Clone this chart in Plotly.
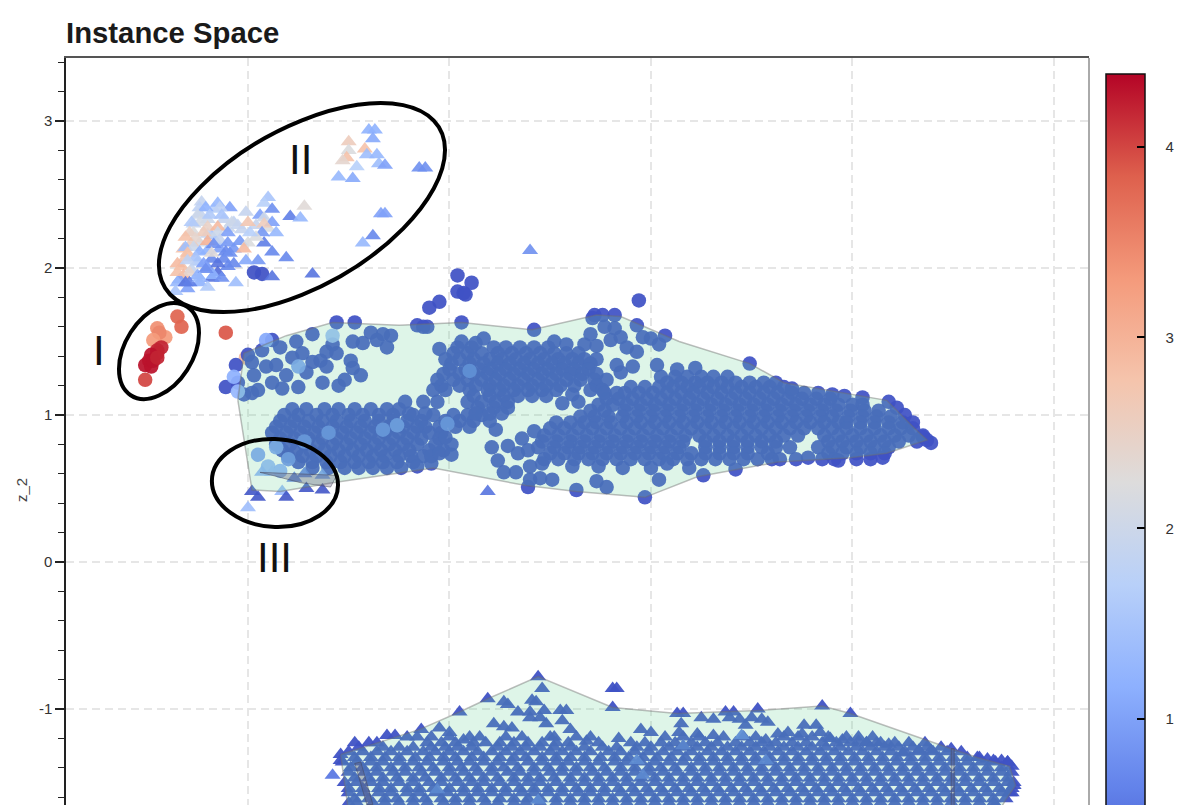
import plotly.graph_objects as go

# ---------- (z_1, z_2, colour value) ----------
COOLWARM = [[0, "#3b4cc0"], [.125, "#6282ea"], [.25, "#8db0fe"], [.375, "#b8d0f9"], [.5, "#dddcdc"],
            [.625, "#f5c4ac"], [.75, "#f49a7b"], [.875, "#de604d"], [1, "#b40426"]]

hull_upper_x = [-2.05,-1.98,-1.84,-1.58,-1.08,-0.62,-0.37,-0.03,0.23,0.63,0.99,1.17,1.37,1.30,1.17,0.66,0.49,0.14,-0.15,-0.27,-0.59,-0.94,-1.25,-1.58,-1.81,-2.02,-2.05]
hull_upper_y = [1.10,0.49,0.48,0.54,0.64,0.52,0.48,0.44,0.58,0.68,0.71,0.74,0.83,0.92,1.10,1.22,1.35,1.50,1.67,1.68,1.58,1.63,1.61,1.63,1.54,1.42,1.10]
hull_lower_x = [-1.54,-1.15,-0.95,-0.81,-0.56,-0.19,0.13,0.53,0.85,0.99,1.49,1.62,1.78,1.81,1.76,1.5,0.0,-1.45,-1.54]
hull_lower_y = [-1.31,-1.14,-1.02,-0.93,-0.78,-0.99,-1.03,-1.01,-0.98,-1.03,-1.27,-1.33,-1.39,-1.52,-1.62,-2.2,-2.5,-2.2,-1.31]
sliver_x = [-1.94,-1.56,-1.59,-1.74,-1.88,-1.94,None,-1.47,-1.44,-1.38,-1.41,-1.47,None,1.49,1.505,1.505,1.49,1.49]
sliver_y = [0.61,0.59,0.51,0.54,0.59,0.61,None,-1.37,-1.36,-1.65,-1.65,-1.37,None,-1.27,-1.27,-1.85,-1.85,-1.27]

sparse_x = [-1.56,-1.47,-1.68,-1.39,-1.33,-1.29,-1.48,-1.43,-1.36,-1.31,-1.76,-1.88,-1.84,-1.93,-2.00,-1.58,-1.61,-1.56,-1.73,-1.78,-1.49,-1.64,-1.68,-1.86,-1.91,-1.98,-2.06,-1.61,-1.71,-1.48,-1.44,-1.52,-1.55,-1.63,-1.75,-1.81,-1.88,-1.83,-1.97,-1.95,-1.98,-2.02,-2.05,-2.11,
            -0.96,-0.89,-0.96,-0.93,-0.92,-1.05,-1.10,-0.06,-1.16,-1.13,-1.11,-0.94,-0.58,-0.28,-0.24,-0.18,-0.07,0.07,0.49,
            -1.16,-0.61,-0.37,-0.03,0.26,0.42,0.64,0.72,0.78,0.93,1.15,1.37,1.39,1.35,0.90,0.96,1.05,1.18,1.22,1.26,1.30,0.70,
            -1.05,-0.94,-0.87,-0.83,-0.48,-0.42,-0.33,-0.30,-0.27,-0.29,-0.23,-0.18,-0.20,-0.15,-0.12,-0.07,-0.04,0.0,0.04,0.03,0.13,0.22,-0.15,-0.09,-0.17,
            -0.44,-0.36,-0.39,-0.23,-0.17,-0.77,-0.58,-0.79,-0.71,-0.64,-0.76,-0.73,-0.67,-0.66,-0.61,-0.60,-0.54,-0.49,-0.55,-0.60,-0.39,-0.26,-0.27,-0.22,-0.14,0.0,0.04,0.19,0.08,
            -1.09,-1.09,-1.05,-0.99,-1.02,-1.97,-1.93]
sparse_y = [1.63,1.63,1.55,1.56,1.55,1.54,1.50,1.49,1.51,1.46,1.50,1.51,1.46,1.44,1.41,1.48,1.43,1.42,1.42,1.39,1.37,1.37,1.36,1.34,1.33,1.36,1.34,1.33,1.29,1.32,1.27,1.24,1.20,1.22,1.19,1.27,1.22,1.18,1.27,1.17,1.15,1.14,1.22,1.19,
            1.95,1.90,1.84,1.83,1.82,1.77,1.73,1.78,1.61,1.60,1.60,1.63,1.58,1.68,1.68,1.68,1.61,1.54,1.35,
            0.65,0.51,0.49,0.44,0.59,0.63,0.70,0.70,0.71,0.69,0.71,0.83,0.81,0.85,1.14,1.13,1.12,1.09,1.05,1.00,0.95,1.18,
            1.45,1.50,1.49,1.52,1.50,1.48,1.48,1.55,1.47,1.66,1.60,1.59,1.51,1.53,1.46,1.43,1.53,1.52,1.48,1.34,1.31,1.32,1.29,1.33,1.34,
            1.08,1.09,1.14,1.15,1.15,0.90,0.89,0.78,0.79,0.84,0.69,0.61,0.61,0.74,0.76,0.65,0.67,0.56,0.57,0.56,0.65,0.65,0.55,0.51,0.64,0.64,0.56,0.64,0.67,
            0.67,0.72,0.74,0.73,0.85,1.97,1.96]

# dense parts of the upper cloud, band by band: z_2 then its z_1 readings
band_right = [
    (1.26, [0.05,0.12,0.18,0.25,0.31,0.38]),
    (1.22, [0.08,0.15,0.22,0.28,0.35,0.42,0.49,0.56,0.62]),
    (1.19, [-0.10,-0.03,0.04,0.11,0.18,0.24,0.31,0.38,0.45,0.52,0.59,0.66]),
    (1.15, [-0.13,-0.06,0.01,0.08,0.15,0.21,0.28,0.35,0.42,0.49,0.56,0.63,0.70,0.76,0.83]),
    (1.11, [-0.22,-0.16,-0.09,-0.02,0.05,0.12,0.19,0.26,0.33,0.40,0.47,0.54,0.61,0.68,0.75,0.82,0.89]),
    (1.07, [-0.26,-0.19,-0.12,-0.05,0.02,0.09,0.16,0.23,0.30,0.37,0.44,0.51,0.58,0.65,0.72,0.79,0.86,0.93,1.00,1.05]),
    (1.03, [-0.30,-0.23,-0.13,-0.06,0.01,0.08,0.15,0.22,0.29,0.36,0.43,0.50,0.57,0.64,0.71,0.78,0.85,0.92,0.99,1.06,1.13]),
    (0.99, [-0.35,-0.28,-0.21,-0.14,-0.07,0.00,0.07,0.14,0.21,0.28,0.35,0.42,0.49,0.56,0.63,0.70,0.77,0.84,0.90,0.98,1.05,1.12,1.19]),
    (0.95, [-0.47,-0.40,-0.33,-0.27,-0.20,-0.12,-0.05,0.02,0.09,0.16,0.23,0.30,0.37,0.44,0.51,0.58,0.65,0.72,0.79,0.86,0.93,0.97,1.04,1.11,1.18,1.25]),
    (0.91, [-0.50,-0.43,-0.36,-0.29,-0.22,-0.15,-0.08,-0.01,0.06,0.13,0.20,0.27,0.34,0.41,0.48,0.55,0.62,0.69,0.76,0.83,0.90,0.97,1.04,1.11,1.18,1.24,1.30]),
    (0.86, [-0.53,-0.46,-0.39,-0.32,-0.25,-0.18,-0.11,-0.04,0.03,0.10,0.17,0.24,0.31,0.38,0.45,0.52,0.59,0.66,0.73,0.86,0.93,1.00,1.07,1.14,1.21,1.28,1.35]),
    (0.82, [-0.54,-0.47,-0.40,-0.33,-0.26,-0.19,-0.12,-0.05,0.02,0.09,0.16,0.27,0.34,0.41,0.48,0.55,0.62,0.88,0.95,1.02,1.09,1.16,1.23,1.32]),
    (0.78, [-0.56,-0.48,-0.41,-0.35,-0.28,-0.21,-0.14,-0.07,0.00,0.07,0.14,0.27,0.34,0.41,0.48,0.55,0.62,0.69,0.83,0.90,0.97,1.04,1.11,1.18]),
    (0.74, [-0.50,-0.43,-0.36,-0.29,-0.22,-0.15,-0.08,-0.01,0.06,0.13,0.20,0.27,0.34,0.41,0.48,0.58,0.88,0.95,1.02,1.09,1.16]),
    (0.70, [-0.53,-0.46,-0.38,-0.31,-0.24,-0.17,-0.10,-0.03,0.04,0.11,0.18,0.25,0.32,0.39,0.46,0.53,0.60,0.85,0.91,1.02,1.09]),
]
band_left = [
    (1.04, [-1.78,-1.71,-1.62,-1.55,-1.47,-1.39,-1.31,-1.25]),
    (1.00, [-1.82,-1.75,-1.66,-1.58,-1.50,-1.43,-1.35,-1.28,-1.18,-1.08,-0.98,-0.91,-0.84]),
    (0.96, [-1.84,-1.77,-1.70,-1.63,-1.56,-1.49,-1.42,-1.35,-1.28,-1.21,-1.14,-1.02,-0.95,-0.88,-0.80]),
    (0.92, [-1.86,-1.79,-1.72,-1.65,-1.58,-1.51,-1.44,-1.37,-1.30,-1.23,-1.16,-1.12,-1.05,-0.97,-0.90]),
    (0.88, [-1.88,-1.81,-1.74,-1.67,-1.60,-1.53,-1.46,-1.39,-1.32,-1.25,-1.18,-1.10,-1.04]),
    (0.84, [-1.84,-1.77,-1.70,-1.63,-1.56,-1.49,-1.42,-1.35,-1.28,-1.21,-1.14,-1.05]),
    (0.80, [-1.86,-1.79,-1.72,-1.65,-1.58,-1.51,-1.44,-1.37,-1.30,-1.23,-1.16,-1.07,-0.99]),
    (0.76, [-1.83,-1.76,-1.69,-1.62,-1.55,-1.48,-1.41,-1.34,-1.27,-1.20,-1.10,-1.03]),
    (0.72, [-1.80,-1.73,-1.66,-1.59,-1.52,-1.45,-1.38,-1.32,-1.25,-1.19,-1.13]),
    (0.68, [-1.75,-1.68,-1.61,-1.54,-1.47,-1.40,-1.33,-1.26,-1.18]),
    (0.64, [-1.68,-1.60,-1.52,-1.45,-1.38,-1.31,-1.24]),
]
band_arm = [
    (1.46, [-0.96,-0.89,-0.78,-0.72,-0.65,-0.58,-0.51]),
    (1.42, [-0.98,-0.91,-0.84,-0.76,-0.69,-0.62,-0.55,-0.48,-0.42,-0.36]),
    (1.38, [-1.02,-0.95,-0.88,-0.80,-0.74,-0.67,-0.60,-0.53,-0.46,-0.39,-0.33,-0.27]),
    (1.35, [-0.99,-0.90,-0.83,-0.76,-0.70,-0.63,-0.56,-0.49,-0.43,-0.36,-0.30]),
    (1.31, [-1.00,-0.92,-0.85,-0.79,-0.72,-0.65,-0.58,-0.51,-0.44,-0.38,-0.31]),
    (1.28, [-1.03,-0.95,-0.88,-0.81,-0.75,-0.68,-0.61,-0.54,-0.47,-0.40,-0.34,-0.27]),
    (1.24, [-1.06,-0.98,-0.91,-0.84,-0.77,-0.70,-0.63,-0.56,-0.49,-0.42,-0.35,-0.28,-0.22]),
    (1.20, [-1.04,-0.95,-0.87,-0.80,-0.73,-0.66,-0.59,-0.52,-0.45,-0.38,-0.27]),
    (1.17, [-1.08,-1.02,-0.90,-0.81,-0.75,-0.68,-0.61,-0.54,-0.47,-0.30,-0.24]),
    (1.13, [-0.88,-0.80,-0.73,-0.66,-0.59,-0.52]),
    (1.09, [-1.22,-1.13,-1.06,-0.91,-0.84,-0.77,-0.71]),
    (1.05, [-0.86,-0.78,-0.71]),
    (1.01, [-1.20,-1.12,-0.87,-0.80,-0.74]),
]
light_x = [-1.95,-1.90,-1.86,-1.80,-1.84,-1.72,-1.58,-1.75,-2.07,-2.05,-1.91,-1.33,-1.60,-0.90,-1.26,-1.01]
light_y = [0.73,0.65,0.78,0.70,0.62,0.82,1.54,1.33,1.26,1.16,1.51,0.90,0.88,1.30,0.93,0.94]
light_v = [1.0,1.3,1.0,0.8,1.2,0.7,1.4,1.0,1.2,1.3,1.1,0.7,0.7,0.6,0.8,0.7]
red_x = [-2.35,-2.33,-2.11,-2.45,-2.41,-2.44,-2.47,-2.43,-2.45,-2.45,-2.48,-2.49,-2.51,-2.48,-2.47,-2.45,-2.51,-2.01]
red_y = [1.67,1.60,1.56,1.59,1.53,1.56,1.51,1.46,1.44,1.42,1.41,1.37,1.34,1.33,1.37,1.39,1.24,1.39]
red_v = [3.8,3.8,3.9,3.4,3.3,3.5,3.3,4.2,4.2,4.2,4.3,4.3,4.3,4.3,4.3,4.2,4.0,2.9]

tri_group_x = [-2.27,-2.24,-2.20,-2.17,-2.12,-2.10,-2.07,-2.03,-2.18,-2.24,-2.28,-2.20,-2.14,-2.07,-2.04,-2.18,-2.12,-2.10,-2.20,-2.25,-2.31,-2.33,-2.28,-2.32,-2.24,-2.18,-2.32,-2.27,-2.20,-2.16,-2.34,-1.96,-1.90,
               -1.90,-1.92,-1.88,-1.94,-1.92,-1.72,-1.79,-1.74,-1.88,-1.92,-1.86,-1.93,-1.92,-1.96,-2.00,-2.02,-1.88,-1.81,-1.95,-2.01,-2.07,-1.68,-1.88,-2.06,-2.20,-2.30,-2.35,-2.36,
               -2.23,-2.15,-2.09,-2.01,-2.24,-2.14,-2.21,-2.25,-2.19,-2.13,-2.08,-2.24,-2.20,-2.28,-2.15,-2.05,-2.00,-1.99,-2.15,-2.29,-2.22,-2.10,-2.26,-2.31,-2.20,-2.14,-2.10,-2.17,-2.31,-2.27,-2.24,-2.30,-2.18,-2.11,-2.09,-2.26,-2.15,-2.35,-2.22,-2.30,-2.29,-2.35,-2.25,-2.15,-2.17,-2.21,-2.31,-2.29,-2.13,-2.24,
               -1.40,-1.37,-1.38,-1.50,-1.50,-1.42,-1.41,-1.36,-1.35,-1.32,-1.46,-1.51,-1.53,-1.55,-1.48,-1.15,-1.12,-1.34,-1.32,-1.38,-1.43,-0.60,-0.81,
               -1.93,-1.88,-1.77,-1.72,-1.63,-1.98,-1.95,-1.83,-1.81,-1.71,-1.63,-2.00]
tri_group_y = [2.30,2.37,2.33,2.40,2.33,2.27,2.31,2.26,2.22,2.17,2.17,2.12,2.13,2.13,2.18,2.06,2.06,2.01,2.00,2.04,2.07,2.01,1.99,1.95,1.90,1.93,2.13,2.24,2.23,2.18,1.92,2.29,2.27,
               2.48,2.44,2.40,2.36,2.34,2.42,2.35,2.34,2.31,2.30,2.24,2.24,2.17,2.21,2.17,2.13,2.11,2.07,2.05,2.05,2.03,1.96,1.94,1.90,1.87,1.86,1.90,1.84,
               2.45,2.44,2.41,2.38,2.41,2.41,2.41,2.36,2.36,2.36,2.31,2.31,2.28,2.31,2.28,2.29,2.31,2.24,2.24,2.24,2.24,2.24,2.20,2.21,2.18,2.19,2.17,2.16,2.14,2.14,2.11,2.10,2.10,2.11,2.10,2.07,2.03,2.03,2.03,2.05,1.97,1.97,1.95,1.97,1.95,1.99,1.90,1.90,1.93,1.93,
               2.94,2.94,2.88,2.86,2.80,2.81,2.77,2.77,2.71,2.70,2.69,2.75,2.73,2.62,2.61,2.68,2.68,2.37,2.37,2.22,2.17,2.12,0.48,
               0.61,0.61,0.57,0.60,0.59,0.48,0.44,0.48,0.44,0.50,0.49,0.37]
tri_group_v = [1.9,1.9,2.0,1.7,1.9,2.0,1.8,1.9,1.5,2.1,2.6,1.2,1.0,0.9,0.9,0.7,0.7,0.7,0.9,1.6,2.7,2.8,1.9,2.9,1.2,0.5,2.8,2.2,1.9,1.6,1.0,1.9,2.2,
               1.5,1.7,0.8,1.0,2.0,2.3,0.6,1.3,1.0,2.6,1.3,0.9,0.6,2.2,2.2,2.9,0.7,0.7,0.9,1.1,0.7,0.5,0.5,1.4,1.6,1.0,1.3,1.5,
               1.9,1.3,1.0,1.9,1.8,1.8,1.2,2.0,1.6,1.5,2.0,2.1,2.5,1.6,2.9,1.9,2.7,1.7,2.0,2.5,2.6,1.0,2.4,2.8,3.0,1.9,0.9,0.8,1.4,2.0,1.2,2.8,2.3,0.7,0.8,1.5,0.5,2.9,1.0,1.8,2.4,2.8,1.2,0.4,1.2,0.8,0.5,0.6,0.8,1.3,
               1.2,1.2,1.1,2.6,2.2,2.8,1.4,1.3,1.4,1.0,1.7,2.8,2.4,1.3,1.1,0.8,0.8,1.0,1.0,0.7,1.3,0.8,0.5,
               1.2,1.3,0.6,0.6,0.9,0.2,0.2,1.3,0.2,0.2,0.2,1.4]

tri_top_x = [-0.56,-0.54,-0.81,-0.95,-0.19,-0.17,-0.19,-0.73,-0.71,-0.59,-0.57,-0.45,-0.42,-0.66,-0.60,-0.53,-0.05,0.00,-0.16,0.13,0.16,0.37,0.41,0.53,0.85,0.99,1.49,
             0.39,0.44,0.50,0.55,0.58,0.47,0.76,0.82,0.68,0.63,0.75,0.84,0.89,0.95,0.57,1.03,1.07,1.12,1.18,1.25,1.33,1.39,1.62,1.67,1.70,1.74,1.77,1.79,1.80,1.79,1.71,
             -1.54,-1.54,-1.47,-1.40,-1.36,-1.31,-1.27,-1.21,-1.14,-1.05,-1.00,-0.93,-0.78,-0.73,-0.69,-0.60,-0.55,-0.52,-0.44,-0.40,-0.37,-0.50,-0.32,0.15,0.14,0.25,0.31,0.23,0.31]
tri_top_y = [-0.78,-0.86,-0.93,-1.02,-0.86,-0.86,-0.99,-0.95,-0.97,-0.94,-0.95,-1.01,-1.01,-1.02,-1.02,-1.01,-1.14,-1.16,-1.20,-1.03,-1.03,-1.02,-1.02,-1.00,-0.98,-1.03,-1.27,
             -1.06,-1.07,-1.06,-1.07,-1.09,-1.11,-1.11,-1.11,-1.16,-1.17,-1.17,-1.16,-1.20,-1.21,-1.21,-1.22,-1.23,-1.23,-1.24,-1.30,-1.28,-1.28,-1.33,-1.34,-1.35,-1.35,-1.36,-1.39,-1.52,-1.57,-1.65,
             -1.31,-1.35,-1.23,-1.23,-1.23,-1.18,-1.18,-1.19,-1.14,-1.13,-1.16,-1.21,-1.10,-1.12,-1.13,-1.06,-1.06,-1.10,-1.08,-1.14,-1.19,-1.19,-1.22,-1.10,-1.16,-1.06,-1.07,-1.17,-1.18]
tri_pale_x = [-1.58,-1.06,-0.04,-0.07,0.57,0.45,0.16,-0.56]
tri_pale_y = [-1.45,-1.55,-1.45,-1.35,-1.35,-1.18,-1.25,-1.62]
tri_pale_v = [0.55,0.5,0.5,0.55,0.5,0.6,0.45,0.5]

tri_bands = [
    (-1.19, [-1.16,-1.09,-1.00,-0.90,-0.85,-0.72,-0.64,-0.48,-0.30,0.07,0.16,0.24,0.36,0.46,0.52,0.66,0.73,0.80,0.88,0.97,1.03,1.10]),
    (-1.23, [-1.11,-1.04,-0.97,-0.88,-0.82,-0.75,-0.68,-0.61,-0.54,-0.47,-0.41,-0.26,-0.10,-0.03,0.05,0.12,0.20,0.27,0.33,0.42,0.49,0.55,0.62,0.70,0.77,0.85,0.92,0.99,1.07,1.14,1.21,1.28,1.36]),
    (-1.26, [-1.45,-1.33,-1.25,-1.18,-1.09,-1.02,-0.96,-0.89,-0.76,-0.69,-0.62,-0.55,-0.48,-0.40,-0.33,-0.24,-0.17,-0.07,0.00,0.09,0.16,0.23,0.30,0.38,0.45,0.52,0.59,0.66,0.73,0.80,0.87,0.94,1.02,1.09,1.16,1.23,1.30,1.37,1.44]),
    (-1.29, [-1.50,-1.43,-1.36,-1.29,-1.21,-1.13,-1.07,-1.00,-0.93,-0.86,-0.79,-0.72,-0.65,-0.58,-0.50,-0.44,-0.37,-0.30,-0.21,-0.15,-0.08,-0.01,0.06,0.13,0.20,0.28,0.35,0.42,0.49,0.56,0.63,0.70,0.77,0.84,0.91,0.98,1.05,1.12,1.19,1.26,1.33,1.40,1.47,1.54]),
    (-1.33, [-1.47,-1.39,-1.32,-1.25,-1.17,-1.10,-1.03,-0.97,-0.89,-0.83,-0.75,-0.68,-0.62,-0.54,-0.47,-0.40,-0.33,-0.25,-0.18,-0.11,-0.04,0.03,0.10,0.17,0.24,0.31,0.38,0.45,0.52,0.59,0.66,0.73,0.80,0.87,0.94,1.01,1.08,1.15,1.22,1.29,1.36,1.43,1.50,1.57,1.63]),
    (-1.36, [-1.53,-1.46,-1.39,-1.33,-1.25,-1.18,-1.11,-1.03,-0.96,-0.90,-0.83,-0.76,-0.69,-0.61,-0.54,-0.47,-0.41,-0.33,-0.26,-0.18,-0.12,-0.05,0.02,0.09,0.16,0.24,0.31,0.38,0.45,0.52,0.59,0.66,0.73,0.80,0.87,0.94,1.01,1.08,1.15,1.22,1.29,1.36,1.43,1.50,1.57,1.64,1.71,1.77]),
    (-1.40, [-1.49,-1.43,-1.36,-1.29,-1.22,-1.15,-1.08,-1.00,-0.94,-0.87,-0.79,-0.73,-0.66,-0.58,-0.51,-0.44,-0.37,-0.30,-0.23,-0.15,-0.08,-0.01,0.05,0.12,0.20,0.27,0.34,0.41,0.48,0.55,0.62,0.69,0.76,0.83,0.90,0.97,1.04,1.11,1.18,1.25,1.32,1.39,1.46,1.53,1.60,1.67,1.74]),
    (-1.43, [-1.50,-1.42,-1.36,-1.28,-1.22,-1.14,-1.07,-1.00,-0.93,-0.86,-0.79,-0.71,-0.65,-0.58,-0.50,-0.44,-0.37,-0.29,-0.22,-0.15,-0.08,-0.01,0.06,0.13,0.20,0.27,0.34,0.41,0.48,0.55,0.62,0.69,0.76,0.83,0.90,0.97,1.04,1.11,1.18,1.25,1.32,1.39,1.46,1.53,1.60,1.67,1.74,1.79]),
    (-1.47, [-1.47,-1.40,-1.33,-1.26,-1.18,-1.12,-1.04,-0.97,-0.90,-0.83,-0.76,-0.68,-0.61,-0.55,-0.48,-0.40,-0.33,-0.26,-0.19,-0.12,-0.05,0.02,0.09,0.16,0.23,0.30,0.37,0.44,0.51,0.58,0.65,0.72,0.79,0.86,0.93,1.00,1.07,1.14,1.21,1.28,1.35,1.42,1.49,1.56,1.63,1.70,1.77]),
    (-1.50, [-1.52,-1.46,-1.39,-1.33,-1.25,-1.18,-1.10,-1.04,-0.96,-0.89,-0.83,-0.75,-0.68,-0.61,-0.55,-0.47,-0.40,-0.33,-0.26,-0.19,-0.12,-0.05,0.02,0.09,0.16,0.23,0.30,0.37,0.44,0.51,0.58,0.65,0.72,0.79,0.86,0.93,1.00,1.07,1.14,1.21,1.28,1.35,1.42,1.49,1.56,1.63,1.70,1.77,1.80]),
    (-1.54, [-1.50,-1.43,-1.35,-1.29,-1.21,-1.15,-1.08,-1.00,-0.93,-0.86,-0.79,-0.72,-0.65,-0.58,-0.51,-0.44,-0.37,-0.30,-0.23,-0.16,-0.09,-0.02,0.05,0.12,0.19,0.26,0.33,0.40,0.47,0.54,0.61,0.68,0.75,0.82,0.89,0.96,1.03,1.10,1.17,1.24,1.31,1.38,1.45,1.52,1.59,1.66,1.73,1.79]),
    (-1.57, [-1.50,-1.43,-1.35,-1.29,-1.21,-1.15,-1.07,-1.01,-0.93,-0.86,-0.79,-0.72,-0.64,-0.58,-0.51,-0.44,-0.36,-0.30,-0.23,-0.15,-0.08,-0.01,0.06,0.13,0.20,0.27,0.34,0.41,0.48,0.55,0.62,0.69,0.76,0.83,0.90,0.97,1.04,1.11,1.18,1.25,1.32,1.39,1.46,1.53,1.60,1.67,1.74,1.78]),
    (-1.61, [-1.47,-1.40,-1.32,-1.26,-1.18,-1.12,-1.04,-0.97,-0.90,-0.83,-0.75,-0.68,-0.61,-0.55,-0.47,-0.40,-0.33,-0.26,-0.19,-0.12,-0.05,0.02,0.09,0.16,0.23,0.30,0.37,0.44,0.51,0.58,0.65,0.72,0.79,0.86,0.93,1.00,1.07,1.14,1.21,1.28,1.35,1.42,1.49,1.56,1.63,1.70,1.76]),
    (-1.64, [-1.50,-1.46,-1.38,-1.32,-1.25,-1.18,-1.11,-1.03,-0.97,-0.90,-0.82,-0.76,-0.68,-0.62,-0.55,-0.47,-0.40,-0.33,-0.26,-0.19,-0.12,-0.05,0.02,0.09,0.16,0.23,0.30,0.37,0.44,0.51,0.58,0.65,0.72,0.79,0.86,0.93,1.00,1.07,1.14,1.21,1.28,1.35,1.42,1.49,1.56,1.63,1.70]),
    (-1.71, [-1.49,-1.42,-1.35,-1.28,-1.21,-1.14,-1.07,-1.00,-0.93,-0.86,-0.79,-0.72,-0.65,-0.58,-0.51,-0.44,-0.37,-0.30,-0.23,-0.16,-0.09,-0.02,0.05,0.12,0.19,0.26,0.33,0.40,0.47,0.54,0.61,0.68,0.75,0.82,0.89,0.96,1.03,1.10,1.17,1.24,1.31,1.38,1.45,1.52,1.59,1.66]),
]

# the three hand-drawn rings, as cubic paths in data units
ring_1 = "M-2.243,1.558 C-2.243,1.390 -2.332,1.200 -2.442,1.133 C-2.551,1.065 -2.640,1.146 -2.640,1.313 C-2.640,1.480 -2.551,1.671 -2.442,1.738 C-2.332,1.805 -2.243,1.725 -2.243,1.558 Z"
ring_2 = "M-1.022,2.803 C-1.022,2.475 -1.340,2.034 -1.732,1.818 C-2.124,1.601 -2.442,1.693 -2.442,2.020 C-2.442,2.348 -2.124,2.789 -1.732,3.005 C-1.340,3.222 -1.022,3.131 -1.022,2.803 Z"
ring_3 = "M-1.553,0.524 C-1.553,0.359 -1.693,0.231 -1.866,0.238 C-2.039,0.246 -2.179,0.386 -2.179,0.551 C-2.179,0.716 -2.039,0.844 -1.866,0.837 C-1.693,0.829 -1.553,0.689 -1.553,0.524 Z"

y_ticks = [3, 2, 1, 0, -1]
y_labels = ["3", "2", "1", "0", "-1"]
x_grid = [-2, -1, 0, 1, 2]
bar_ticks = [1, 2, 3, 4]
DARK_V = 0.16

def flat(bands):
    xs, ys = [], []
    for y, row in bands:
        xs += row
        ys += [y] * len(row)
    return xs, ys

dense_x, dense_y = flat(band_right + band_left + band_arm)
tri_x, tri_y = flat(tri_bands)

fig = go.Figure()
circ_x = dense_x + sparse_x
circ_y = dense_y + sparse_y
fig.add_trace(go.Scatter(x=red_x + circ_x + light_x, y=red_y + circ_y + light_y, mode="markers",
    marker=dict(symbol="circle", size=14.5, opacity=0.93, color=red_v + [DARK_V] * len(circ_x) + light_v, coloraxis="coloraxis", line_width=0), hoverinfo="skip"))
fig.add_trace(go.Scatter(x=tri_group_x, y=tri_group_y, mode="markers",
    marker=dict(symbol="triangle-up", size=14, opacity=0.9, color=tri_group_v, coloraxis="coloraxis", line_width=0), hoverinfo="skip"))
low_x = tri_top_x + tri_x + tri_pale_x
low_y = tri_top_y + tri_y + tri_pale_y
fig.add_trace(go.Scatter(x=low_x, y=low_y, mode="markers",
    marker=dict(symbol="triangle-up", size=14, opacity=0.95, color=[DARK_V] * (len(tri_top_x) + len(tri_x)) + tri_pale_v, coloraxis="coloraxis", line_width=0), hoverinfo="skip"))
for hx, hy in ((hull_upper_x, hull_upper_y), (hull_lower_x, hull_lower_y)):
    fig.add_trace(go.Scatter(x=hx, y=hy, mode="lines", fill="toself", fillcolor="rgba(105,209,150,0.22)",
                             line=dict(color="rgba(110,110,110,0.45)", width=1.5), hoverinfo="skip"))
fig.add_trace(go.Scatter(x=sliver_x, y=sliver_y, mode="lines", fill="toself", fillcolor="rgba(95,90,120,0.35)",
                         line=dict(color="rgba(70,70,90,0.5)", width=1), hoverinfo="skip"))
# carries the inner tick marks of the colour bar; it has no visible points
fig.add_trace(go.Scatter(x=[None, None], y=[None, None], mode="markers",
                         marker=dict(color=[0.1, 4.38], coloraxis="coloraxis2"), hoverinfo="skip"))

big = dict(family="Liberation Sans", size=42, color="#111111")
notes = [dict(x=-2.74, y=1.44, text="I", showarrow=False, font=big),
         dict(x=-1.74, y=2.74, text="II", showarrow=False, font=big),
         dict(x=-1.87, y=0.03, text="III", showarrow=False, font=big),
         dict(xref="paper", x=-0.044, xanchor="center", y=0.49, text="z_2", textangle=-90, showarrow=False,
              font=dict(family="Liberation Sans", size=15, color="#444444"))]

BAR_X, BAR_Y, BAR_LEN = 1.01662, 0.97858, 817
base_bar = dict(thickness=39, lenmode="pixels", len=BAR_LEN, x=BAR_X, xanchor="left", y=BAR_Y, yanchor="top", xpad=0, ypad=0,
                tickmode="array", tickvals=bar_ticks)

fig.update_layout(
    width=1188, height=797, showlegend=False, paper_bgcolor="white", plot_bgcolor="white",
    margin=dict(l=58, r=107, t=50, b=0, autoexpand=False),
    title=dict(text="<b>Instance Space</b>", x=58 / 1188, xanchor="left", xref="container", y=1 - 25 / 797, yanchor="middle",
               font=dict(family="Liberation Sans", size=29.3, color="#1a1a1a")),
    font=dict(family="Liberation Sans"),
    xaxis=dict(range=[-2.903, 2.174], side="top", tickmode="array", tickvals=x_grid, showticklabels=False, ticks="",
               showline=True, linecolor="#555555", linewidth=1.5, zeroline=False,
               showgrid=True, gridcolor="#e6e6e6", gridwidth=1.5, griddash="8px,5px"),
    yaxis=dict(range=[-1.653, 3.429], tickmode="array", tickvals=y_ticks, ticktext=y_labels, ticks="outside", ticklen=9,
               ticksuffix="\u2002", tickwidth=1.5, tickcolor="#222222", tickfont=dict(size=15, color="#333333"), showline=True, linecolor="#222222", linewidth=1.5,
               zeroline=False, showgrid=True, gridcolor="#e6e6e6", gridwidth=1.5, griddash="8px,5px",
               minor=dict(dtick=0.2, tick0=0, ticks="outside", ticklen=6, tickwidth=1.2, tickcolor="#222222", showgrid=False)),
    coloraxis=dict(colorscale=COOLWARM, cmin=0.1, cmax=4.38,
                   colorbar=dict(**base_bar, outlinewidth=0, ticks="outside", ticklen=18, tickwidth=1, tickcolor="white",
                                 tickfont=dict(family="Liberation Sans", size=15, color="#333333"))),
    coloraxis2=dict(colorscale=COOLWARM, cmin=0.1, cmax=4.38,
                    colorbar=dict(**base_bar, outlinecolor="#111111", outlinewidth=1.5, ticks="inside", ticklen=8, tickwidth=1.5, tickcolor="black",
                                  showticklabels=False)),
    annotations=notes,
    shapes=[dict(type="line", xref="paper", yref="paper", x0=1, x1=1, y0=0, y1=1, line=dict(color="#aaaaaa", width=2)),
            dict(type="path", path=ring_1, line=dict(color="black", width=4)),
            dict(type="path", path=ring_2, line=dict(color="black", width=4)),
            dict(type="path", path=ring_3, line=dict(color="black", width=4))],
)
fig.write_html("out.html")
